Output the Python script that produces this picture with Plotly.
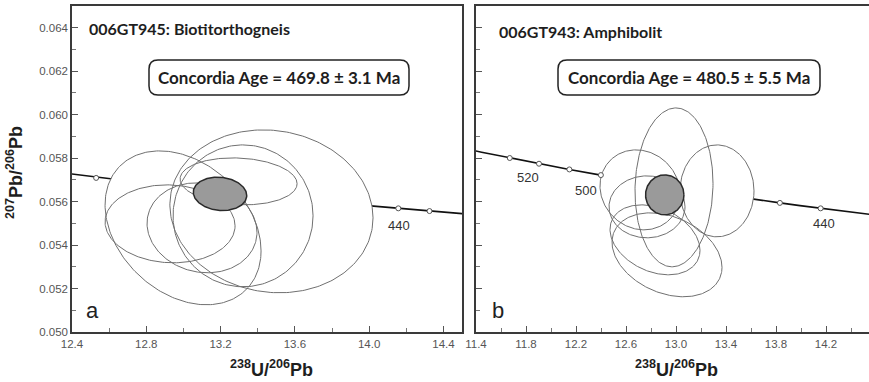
import numpy as np
import plotly.graph_objects as go

# ---------------- data ----------------
# Concordia reference points (Tera-Wasserburg): age [Ma], 238U/206Pb, 207Pb/206Pb
conc_age = [420, 430, 435, 440, 445, 450, 460, 470, 480, 490, 495, 500, 510, 520, 530, 540, 550]
conc_u_pb = [14.854, 14.497, 14.325, 14.157, 13.992, 13.831, 13.520, 13.222, 12.936,
             12.662, 12.530, 12.399, 12.147, 11.904, 11.670, 11.445, 11.228]
conc_pb_pb = [0.055192, 0.055440, 0.055565, 0.055690, 0.055814, 0.055940, 0.056193, 0.056447,
              0.056703, 0.056960, 0.057090, 0.057220, 0.057480, 0.057743, 0.058006, 0.058272, 0.058539]

left_marker_ages = [495, 440, 435]
right_marker_ages = [530, 520, 510, 500, 450, 440]
left_age_labels = [440]
right_age_labels = [520, 500, 440]

# analyses (error ellipses): centre, sigma x, sigma y, correlation
left_cx = [13.474, 13.321, 13.297, 12.998, 12.928, 13.100]
left_sx = [0.547, 0.377, 0.315, 0.420, 0.350, 0.296]
left_cy = [0.055552, 0.055345, 0.056931, 0.054793, 0.054977, 0.054793]
left_sy = [0.003747, 0.003264, 0.001080, 0.003540, 0.001793, 0.002069]
left_rho = [-0.08, 0.0, -0.10, -0.30, -0.05, -0.10]

right_cx = [12.984, 13.328, 12.712, 12.768, 12.928, 12.832]
right_sx = [0.312, 0.296, 0.320, 0.304, 0.440, 0.360]
right_cy = [0.056655, 0.056494, 0.056540, 0.055759, 0.053552, 0.054241]
right_sy = [0.003655, 0.002115, 0.001840, 0.001425, 0.001931, 0.001609]
right_rho = [0.05, 0.0, -0.10, 0.0, -0.30, -0.30]

# concordia age ellipses: cx, sx, cy, sy, rho
left_mean = [13.197, 0.1438, 0.056356, 0.000768, -0.10]
right_mean = [12.910, 0.1536, 0.056310, 0.000920, 0.0]

left_title = "006GT945: Biotitorthogneis"
right_title = "006GT943: Amphibolit"
left_age_text = "Concordia Age = 469.8 ± 3.1 Ma"
right_age_text = "Concordia Age = 480.5 ± 5.5 Ma"

# ---------------- layout geometry ----------------
W, H = 869, 382
ML, MR, MT, MB = 72, 0, 6, 50
PW = W - ML - MR
PH = H - MT - MB


def px(x):
    return (x - ML) / PW


def py(y):
    return (H - MB - y) / PH


def ellipse(cx, sx, cy, sy, rho, n=240):
    t = np.linspace(0, 2 * np.pi, n)
    x = cx + sx * np.cos(t)
    y = cy + sy * (rho * np.cos(t) + np.sqrt(1 - rho ** 2) * np.sin(t))
    return x, y


fig = go.Figure()

conc_u = np.array(conc_u_pb)
conc_p = np.array(conc_pb_pb)
age_idx = {a: i for i, a in enumerate(conc_age)}

panels = [
    ("x", "y", left_cx, left_sx, left_cy, left_sy, left_rho, left_mean, left_marker_ages),
    ("x2", "y2", right_cx, right_sx, right_cy, right_sy, right_rho, right_mean, right_marker_ages),
]

for xa, ya, cxs, sxs, cys, sys_, rhos, mean, mages in panels:
    fig.add_trace(go.Scatter(x=conc_u, y=conc_p, mode="lines", xaxis=xa, yaxis=ya,
                             line=dict(color="#111111", width=1.6), hoverinfo="skip"))
    for cx, sx, cy, sy, r in zip(cxs, sxs, cys, sys_, rhos):
        ex, ey = ellipse(cx, sx, cy, sy, r)
        fig.add_trace(go.Scatter(x=ex, y=ey, mode="lines", fill="toself", fillcolor="white",
                                 line=dict(width=0, color="white"), xaxis=xa, yaxis=ya,
                                 hoverinfo="skip"))
    for cx, sx, cy, sy, r in zip(cxs, sxs, cys, sys_, rhos):
        ex, ey = ellipse(cx, sx, cy, sy, r)
        fig.add_trace(go.Scatter(x=ex, y=ey, mode="lines", line=dict(width=1, color="#707070"),
                                 xaxis=xa, yaxis=ya, hoverinfo="skip"))
    ex, ey = ellipse(*mean)
    fig.add_trace(go.Scatter(x=ex, y=ey, mode="lines", fill="toself", fillcolor="#9a9a9a",
                             line=dict(width=1.5, color="#2a2a2a"), xaxis=xa, yaxis=ya,
                             hoverinfo="skip"))
    mi = [age_idx[a] for a in mages]
    fig.add_trace(go.Scatter(x=conc_u[mi], y=conc_p[mi], mode="markers", xaxis=xa, yaxis=ya,
                             marker=dict(symbol="circle", size=5, color="white",
                                         line=dict(color="#555555", width=1)),
                             hoverinfo="skip"))

annotations = []
label_font = dict(family="Liberation Sans, Arial, sans-serif", size=13, color="#333333")
for a, xs, ys in [(left_age_labels[0], 1, -17)]:
    annotations.append(dict(x=conc_u_pb[age_idx[a]], y=conc_pb_pb[age_idx[a]], xref="x", yref="y",
                            xanchor="center", yanchor="middle",
                            text=str(a), showarrow=False, xshift=xs, yshift=ys, font=label_font))
for a, xs, ys in zip(right_age_labels, [-11, -15, 3], [-14, -15, -15]):
    annotations.append(dict(x=conc_u_pb[age_idx[a]], y=conc_pb_pb[age_idx[a]], xref="x2", yref="y2",
                            xanchor="center", yanchor="middle",
                            text=str(a), showarrow=False, xshift=xs, yshift=ys, font=label_font))


def note(xp, yp, text, font, xanchor="center", angle=0):
    return dict(x=px(xp), y=py(yp), xref="paper", yref="paper", xanchor=xanchor,
                yanchor="middle", text=text, showarrow=False, font=font, textangle=angle)


title_font = dict(family="Lato, Liberation Sans, sans-serif", size=16, color="#1e1e1e")
annotations.append(note(87, 28, "<b>" + left_title + "</b>", title_font, "left"))
annotations.append(note(497, 32, "<b>" + right_title + "</b>", title_font, "left"))

age_font = dict(family="Lato, Liberation Sans, sans-serif", size=17, color="#1e1e1e")
annotations.append(note(279, 77.5, "<b>" + left_age_text + "</b>", age_font))
annotations.append(note(689, 77.5, "<b>" + right_age_text + "</b>", age_font))

panel_font = dict(family="Liberation Sans, Arial, sans-serif", size=22, color="#222222")
annotations.append(note(92, 310, "a", panel_font))
annotations.append(note(498, 310, "b", panel_font))

axis_title_font = dict(family="Liberation Sans, Arial, sans-serif", size=18, color="#1e1e1e")
for cxp in (271, 676):
    annotations.append(note(cxp, 368, "<b><sup>238</sup>U/<sup>206</sup>Pb</b>", axis_title_font))
annotations.append(note(15, 172, "<b><sup>207</sup>Pb/<sup>206</sup>Pb</b>", axis_title_font,
                        angle=-90))


def rrect(x0, y0, x1, y1, r):
    pts = [
        ("M", x0 + r, y0), ("L", x1 - r, y0), ("Q", x1, y0, x1, y0 + r),
        ("L", x1, y1 - r), ("Q", x1, y1, x1 - r, y1), ("L", x0 + r, y1),
        ("Q", x0, y1, x0, y1 - r), ("L", x0, y0 + r), ("Q", x0, y0, x0 + r, y0),
    ]
    s = ""
    for p in pts:
        coords = p[1:]
        parts = [f"{px(coords[i]):.5f},{py(coords[i + 1]):.5f}" for i in range(0, len(coords), 2)]
        s += p[0] + " " + " ".join(parts) + " "
    return s + "Z"


shapes = [
    dict(type="path", xref="paper", yref="paper", path=rrect(149, 60, 409, 95, 9),
         line=dict(color="#222222", width=1.5), fillcolor="rgba(0,0,0,0)"),
    dict(type="path", xref="paper", yref="paper", path=rrect(558, 60, 820, 95, 9),
         line=dict(color="#222222", width=1.5), fillcolor="rgba(0,0,0,0)"),
]

tick_font = dict(family="Liberation Sans, Arial, sans-serif", size=11.5, color="#555555")
common_x = dict(showgrid=False, zeroline=False, showline=True, linecolor="#3a3a3a", linewidth=1.5,
                ticks="inside", ticklen=6, tickcolor="#555555", tickwidth=1, tickfont=tick_font,
                tickmode="linear", dtick=0.4, tickformat=".1f",
                minor=dict(ticks="inside", ticklen=4, tickcolor="#777777", dtick=0.2, showgrid=False))
common_y = dict(showgrid=False, zeroline=False, showline=True, linecolor="#3a3a3a", linewidth=1.5,
                ticks="inside", ticklen=6, tickcolor="#555555", tickwidth=1, tickfont=tick_font,
                range=[0.050, 0.065], tickmode="linear", tick0=0.050, dtick=0.002, tickformat=".3f",
                minor=dict(ticks="inside", ticklen=4, tickcolor="#777777", tick0=0.050, dtick=0.001,
                           showgrid=False))

fig.update_layout(
    width=W, height=H, margin=dict(l=ML, r=MR, t=MT, b=MB),
    paper_bgcolor="white", plot_bgcolor="white", showlegend=False,
    xaxis=dict(common_x, domain=[0, px(462)], range=[12.4, 14.5], tick0=12.4, anchor="y",
               mirror=True),
    yaxis=dict(common_y, domain=[0, 1], anchor="x", mirror=True),
    xaxis2=dict(common_x, domain=[px(476), 1], range=[11.4, 14.544], tick0=11.4, anchor="y2",
                mirror=True),
    yaxis2=dict(common_y, domain=[0, 1], anchor="x2", showticklabels=False, mirror=False),
    annotations=annotations, shapes=shapes,
)

fig.write_html("out.html", config={"displayModeBar": False},
               post_script="document.body.style.margin='0';document.body.style.overflow='hidden';")
